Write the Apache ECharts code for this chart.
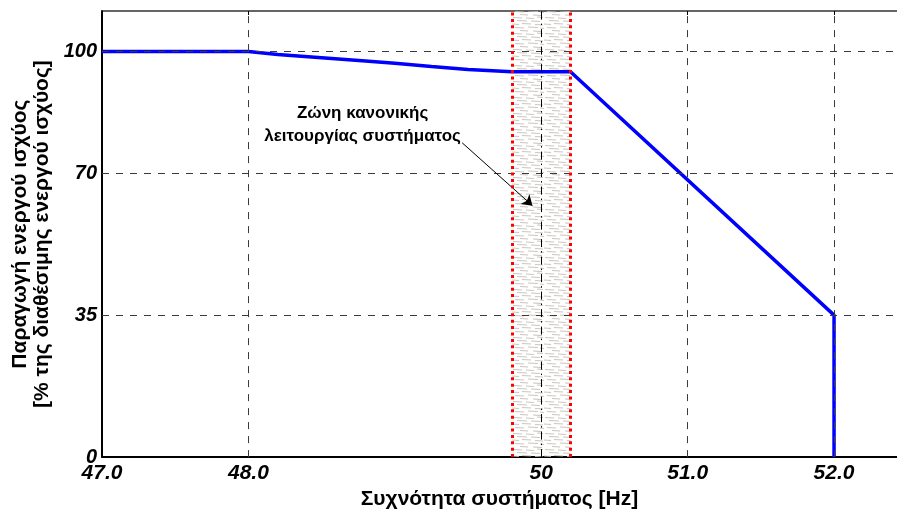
<!DOCTYPE html>
<html>
<head>
<meta charset="utf-8">
<script src="https://cdn.jsdelivr.net/npm/echarts@6/dist/echarts.min.js"></script>
<style>
  html, body { margin: 0; padding: 0; background: #fff; }
  #chart { width: 897px; height: 515px; }
</style>
</head>
<body>
<div id="chart"></div>
<script>
// Active power output vs. system frequency
const frequency = [47.0, 48.0, 48.2, 48.5, 48.8, 49.0, 49.25, 49.5, 49.8, 50.2, 52.0, 52.0];
const powerPct  = [100,  100,  99.3, 98.5, 97.7, 97.1, 96.3,  95.6, 95.0, 95.0, 35,   0];

const xTicks = [47.0, 48.0, 50, 51.0, 52.0];
const xTickLabels = ['47.0', '48.0', '50', '51.0', '52.0'];
const yTicks = [0, 35, 70, 100];
const yTickLabels = ['0', '35', '70', '100'];

// normal operating band of the system frequency
const bandFrom = 49.8;
const bandTo = 50.2;
const nominalFreq = 50;

const bandLabel = 'Ζώνη κανονικής\nλειτουργίας συστήματος';
const labelAt = [48.78, 82];
const arrowFrom = [49.46, 77.5];
const arrowTo = [49.94, 62];

const xTitle = 'Συχνότητα συστήματος [Hz]';
const yTitle = 'Παραγωγή ενεργού ισχύος\n[% της διαθέσιμης ενεργού ισχύος]';

// light grey hatch used to fill the band
function hatchPattern() {
  const c = document.createElement('canvas');
  c.width = 32; c.height = 16;
  const g = c.getContext('2d');
  g.strokeStyle = 'rgba(196,192,184,0.9)';
  g.lineWidth = 1.2;
  const strokes = [
    [1, 1.5, 9], [14, 2, 8], [25, 1, 6],
    [5, 4.5, 10], [19, 5, 9],
    [0, 8, 7], [10, 7.5, 9], [23, 8.5, 8],
    [3, 11.5, 9], [16, 11, 10], [28, 12, 4],
    [8, 14.5, 8], [21, 15, 9]
  ];
  strokes.forEach(function (s) {
    g.beginPath();
    g.moveTo(s[0], s[1]);
    g.lineTo(s[0] + s[2], s[1] + 0.5);
    g.stroke();
  });
  return c;
}

const chart = echarts.init(document.getElementById('chart'), null, { renderer: 'canvas' });
const FONT = '"Liberation Sans", Arial, sans-serif';
const gridDash = { color: '#3a3a3a', width: 1, type: [7, 7] };
const tickFont = { fontFamily: FONT, fontWeight: 'bold', fontStyle: 'italic', fontSize: 21, color: '#000' };

chart.setOption({
  animation: false,
  grid: { left: 102, top: 11, bottom: 54, right: 0 },
  xAxis: [
    {
      type: 'value', min: 47, max: 52.43,
      name: xTitle, nameLocation: 'middle', nameGap: 26,
      nameTextStyle: { fontFamily: FONT, fontWeight: 'bold', fontSize: 21, color: '#000' },
      axisLine: { show: true, onZero: false, lineStyle: { color: '#000', width: 2 } },
      axisTick: { show: true, inside: true, length: 4, customValues: xTicks, lineStyle: { color: '#000' } },
      axisLabel: Object.assign({
        customValues: xTicks, margin: 6,
        formatter: function (v) { return xTickLabels[xTicks.indexOf(v)]; }
      }, tickFont),
      splitLine: { show: false }
    },
    {
      // top frame line
      type: 'value', min: 47, max: 52.43, position: 'top',
      axisLine: { show: true, onZero: false, lineStyle: { color: '#333', width: 1.5 } },
      axisTick: { show: true, inside: true, length: 4, customValues: xTicks, lineStyle: { color: '#000' } },
      axisLabel: { show: false },
      splitLine: { show: false }
    }
  ],
  yAxis: {
    type: 'value', min: 0, max: 110,
    name: yTitle, nameLocation: 'middle', nameGap: 45, nameRotate: 90,
    nameTextStyle: { fontFamily: FONT, fontWeight: 'bold', fontSize: 21, color: '#000', lineHeight: 22 },
    axisLine: { show: true, onZero: false, lineStyle: { color: '#000', width: 2 } },
    axisTick: { show: true, inside: true, length: 4, customValues: yTicks, lineStyle: { color: '#000' } },
    axisLabel: Object.assign({
      customValues: yTicks, margin: 5,
      formatter: function (v) { return yTickLabels[yTicks.indexOf(v)]; }
    }, tickFont, { fontSize: 20 }),
    splitLine: { show: false }
  },
  series: [
    {
      // grid lines at the tick positions
      type: 'line', data: [], silent: true, z: 1,
      markLine: {
        silent: true, symbol: 'none', label: { show: false },
        data: xTicks.filter(function (v) { return v !== 47 && v !== nominalFreq; })
          .map(function (v) { return { xAxis: v, lineStyle: gridDash }; })
          .concat(yTicks.filter(function (v) { return v !== 0; })
          .map(function (v) { return { yAxis: v, lineStyle: gridDash }; }))
          .concat([{ xAxis: nominalFreq, lineStyle: { color: '#000', width: 1, type: [8, 4, 1.5, 4] } }])
      }
    },
    {
      type: 'line', data: frequency.map(function (f, i) { return [f, powerPct[i]]; }),
      symbol: 'none', z: 3,
      lineStyle: { color: '#0000ff', width: 3.5 },
      markLine: {
        silent: true, symbol: ['none', 'arrow'], symbolSize: 10,
        label: { show: false },
        lineStyle: { color: '#000', width: 1, type: 'solid' },
        data: [[{ coord: arrowFrom }, { coord: arrowTo }]]
      },
      markPoint: {
        silent: true, symbol: 'circle', symbolSize: 0,
        data: [{ coord: labelAt }],
        label: {
          show: true, formatter: bandLabel, position: 'inside',
          fontFamily: FONT, fontWeight: 'bold', fontSize: 17, lineHeight: 23,
          color: '#000', align: 'center'
        }
      }
    },
    {
      // hatched band with dotted red edges, drawn over the curve
      type: 'line', data: [], silent: true, z: 5,
      markArea: {
        silent: true,
        itemStyle: { color: { image: hatchPattern(), repeat: 'repeat' } },
        data: [[{ xAxis: bandFrom }, { xAxis: bandTo }]]
      },
      markLine: {
        silent: true, symbol: 'none', label: { show: false },
        lineStyle: { color: '#ff0000', width: 3, type: [3, 3.4] },
        data: [{ xAxis: bandFrom }, { xAxis: bandTo }]
      }
    }
  ]
});
</script>
</body>
</html>
